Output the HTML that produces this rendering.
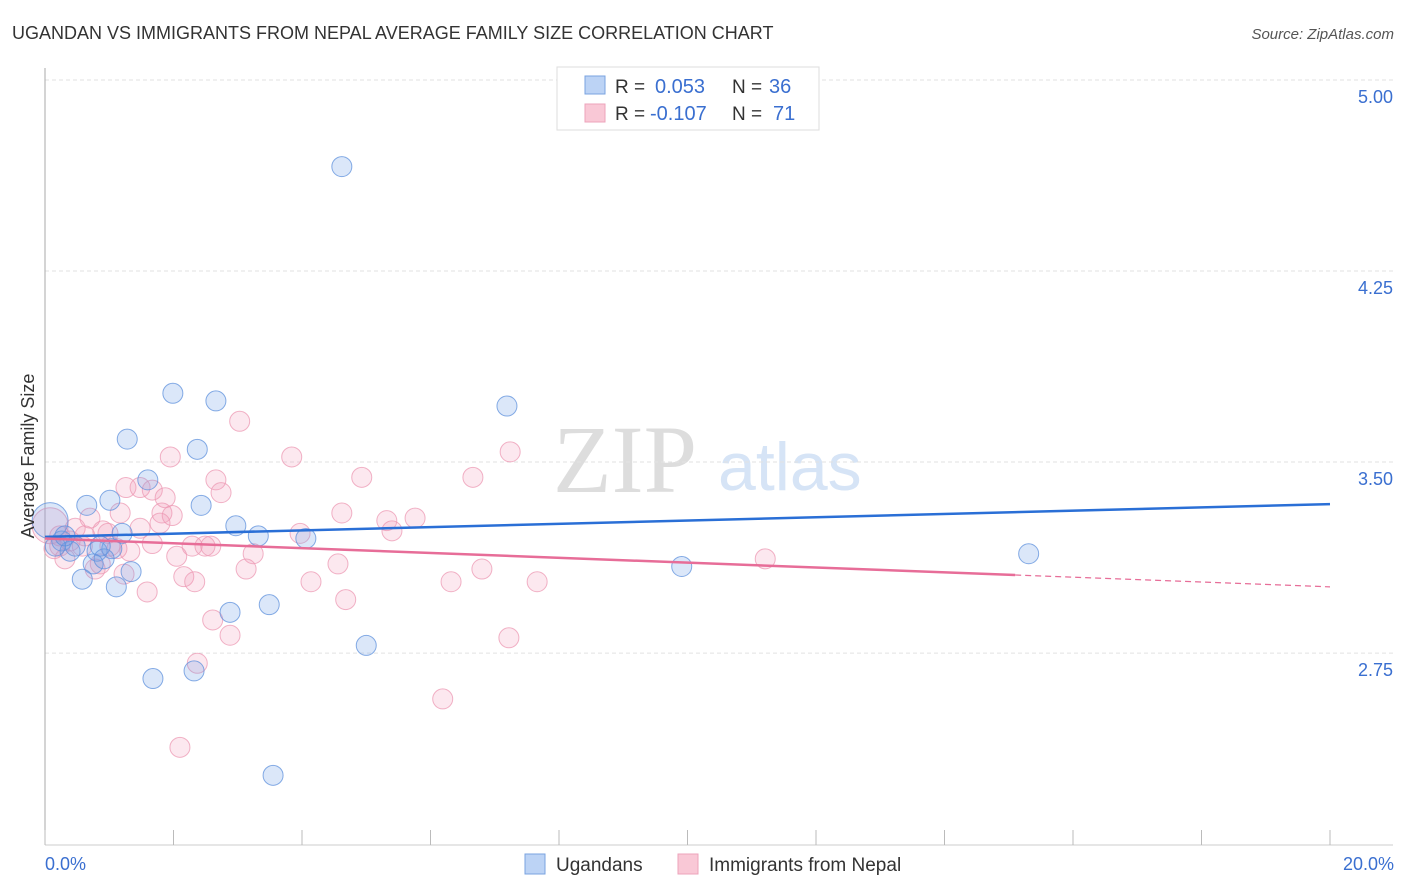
<!DOCTYPE html>
<html><head><meta charset="utf-8"><style>
body{margin:0;background:#fff;font-family:"Liberation Sans",sans-serif;}
#wrap{position:relative;width:1406px;height:892px;overflow:hidden}
</style></head><body>
<div id="wrap">
<svg id="svg" width="1406" height="892">
<text x="12" y="39" font-size="18" fill="#333">UGANDAN VS IMMIGRANTS FROM NEPAL AVERAGE FAMILY SIZE CORRELATION CHART</text>
<text x="1394" y="39" font-size="15" fill="#555" font-style="italic" text-anchor="end">Source: ZipAtlas.com</text>
<text x="553" y="492" font-size="96" fill="#ddd" font-family="Liberation Serif,serif">ZIP</text>
<text x="718" y="490" font-size="68" fill="#d6e4f6">atlas</text>
<g id="grid"></g><g id="marks"></g>
<text transform="translate(34,456) rotate(-90)" font-size="18" fill="#333" text-anchor="middle">Average Family Size</text>
<text x="45" y="870" font-size="18" fill="#3a6fd0">0.0%</text>
<text x="1394" y="870" font-size="18" fill="#3a6fd0" text-anchor="end">20.0%</text>
<g>
<rect x="557" y="67" width="262" height="63" fill="#fff" stroke="#ddd"/>
<rect x="585" y="76" width="20" height="18" fill="#bcd3f5" stroke="#7aa3e0"/>
<rect x="585" y="104" width="20" height="18" fill="#f9c8d6" stroke="#eda3bb"/>
<text x="615" y="93" font-size="19" fill="#333">R =</text>
<text x="655" y="93" font-size="20" fill="#3a6fd0">0.053</text>
<text x="732" y="93" font-size="19" fill="#333">N =</text>
<text x="769" y="93" font-size="20" fill="#3a6fd0">36</text>
<text x="615" y="120" font-size="19" fill="#333">R =</text>
<text x="650" y="120" font-size="20" fill="#3a6fd0">-0.107</text>
<text x="732" y="120" font-size="19" fill="#333">N =</text>
<text x="773" y="120" font-size="20" fill="#3a6fd0">71</text>
</g>
<g>
<rect x="525" y="854" width="20" height="20" fill="#bcd3f5" stroke="#7aa3e0"/>
<text x="556" y="871" font-size="19" fill="#333">Ugandans</text>
<rect x="678" y="854" width="20" height="20" fill="#f9c8d6" stroke="#eda3bb"/>
<text x="709" y="871" font-size="19" fill="#333">Immigrants from Nepal</text>
</g>
</svg></div>
<script>
const yTicks=[5.00,4.25,3.50,2.75];
const xTickCount=10;
const blueX=[4.62,1.99,2.66,7.19,1.28,2.37,1.60,1.01,0.65,2.43,2.97,3.32,1.20,4.06,0.26,0.08,0.81,0.39,1.04,0.75,1.34,0.92,0.58,1.11,2.88,3.49,5.00,1.68,2.32,3.55,9.91,15.31,0.16,0.47,0.86,0.31];
const blueY=[4.66,3.77,3.74,3.72,3.59,3.55,3.43,3.35,3.33,3.33,3.25,3.21,3.22,3.20,3.19,3.27,3.15,3.15,3.16,3.10,3.07,3.12,3.04,3.01,2.91,2.94,2.78,2.65,2.68,2.27,3.09,3.14,3.17,3.17,3.17,3.21];
const pinkX=[3.03,7.24,3.84,1.95,4.93,6.66,2.66,1.26,1.48,1.67,1.87,2.74,0.70,1.17,4.62,1.82,1.98,1.79,5.32,5.76,0.47,0.90,1.48,5.40,0.23,0.98,1.67,3.97,0.58,1.32,2.29,2.49,2.58,3.24,2.05,1.12,0.31,4.56,3.13,6.80,0.78,1.23,2.16,2.33,4.14,6.32,7.66,1.59,4.68,2.61,2.88,7.22,2.37,6.19,2.10,11.21,0.14,0.08,0.39,0.86,1.01,0.62,0.23];
const pinkY=[3.66,3.54,3.52,3.52,3.44,3.44,3.43,3.40,3.40,3.39,3.36,3.38,3.28,3.30,3.30,3.30,3.29,3.26,3.27,3.28,3.24,3.23,3.24,3.23,3.21,3.22,3.18,3.22,3.17,3.15,3.17,3.17,3.17,3.14,3.13,3.16,3.12,3.10,3.08,3.08,3.08,3.06,3.05,3.03,3.03,3.03,3.03,2.99,2.96,2.88,2.82,2.81,2.71,2.57,2.38,3.12,3.16,3.25,3.19,3.10,3.17,3.21,3.17];
const blueTrend=[3.206,3.335];
const pinkTrend=[3.200,3.010];
const pinkSolidEnd=15.1;
const NS="http://www.w3.org/2000/svg";
const xs=v=>45+v/20*1285;
const ys=v=>80+(5-v)*254.7;
function mk(tag,at,parent){const e=document.createElementNS(NS,tag);for(const k in at)e.setAttribute(k,at[k]);parent.appendChild(e);return e;}
const grid=document.getElementById('grid'),marks=document.getElementById('marks');
yTicks.forEach(t=>{
 const l=mk('line',{x1:45,x2:1393,y1:ys(t),y2:ys(t),stroke:'#e2e2e2','stroke-dasharray':'4,3'},grid);
 
 
 const tx=mk('text',{x:1393,y:ys(t)+23,'font-size':18,fill:'#3a6fd0','text-anchor':'end'},grid);
 tx.textContent=t.toFixed(2);
 
 
});
const ax=mk('line',{x1:45,x2:45,y1:68,y2:845,stroke:'#aaa'},grid);


const bx=mk('line',{x1:45,x2:1393,y1:845,y2:845,stroke:'#ccc'},grid);


for(let i=0;i<=xTickCount;i++){const x=xs(i*20/xTickCount);
 const t=mk('line',{x1:x,x2:x,y1:830,y2:845,stroke:'#bbb'},grid);
 
 }
function pts(X,Y,fill,stroke,name){X.forEach((x,i)=>{
 const big=x<0.1;
 const c=mk('circle',{cx:xs(x),cy:ys(Y[i]),r:big?18:10,fill:fill,stroke:stroke,'stroke-width':1,'stroke-opacity':0.75},marks);
 
 });}
pts(pinkX,pinkY,'rgba(242,150,180,0.22)','#ec98b3','nepal-point');
pts(blueX,blueY,'rgba(110,160,230,0.25)','#5d90dc','ugandan-point');
const b=mk('line',{x1:xs(0),y1:ys(blueTrend[0]),x2:xs(20),y2:ys(blueTrend[1]),stroke:'#2a6fd6','stroke-width':2.5},marks);


const pe=pinkTrend[0]+(pinkTrend[1]-pinkTrend[0])*pinkSolidEnd/20;
const p=mk('line',{x1:xs(0),y1:ys(pinkTrend[0]),x2:xs(pinkSolidEnd),y2:ys(pe),stroke:'#e76d98','stroke-width':2.5},marks);


const pd=mk('line',{x1:xs(pinkSolidEnd),y1:ys(pe),x2:xs(20),y2:ys(pinkTrend[1]),stroke:'#e76d98','stroke-width':1.2,'stroke-dasharray':'6,4'},marks);


</script>
</body></html>
